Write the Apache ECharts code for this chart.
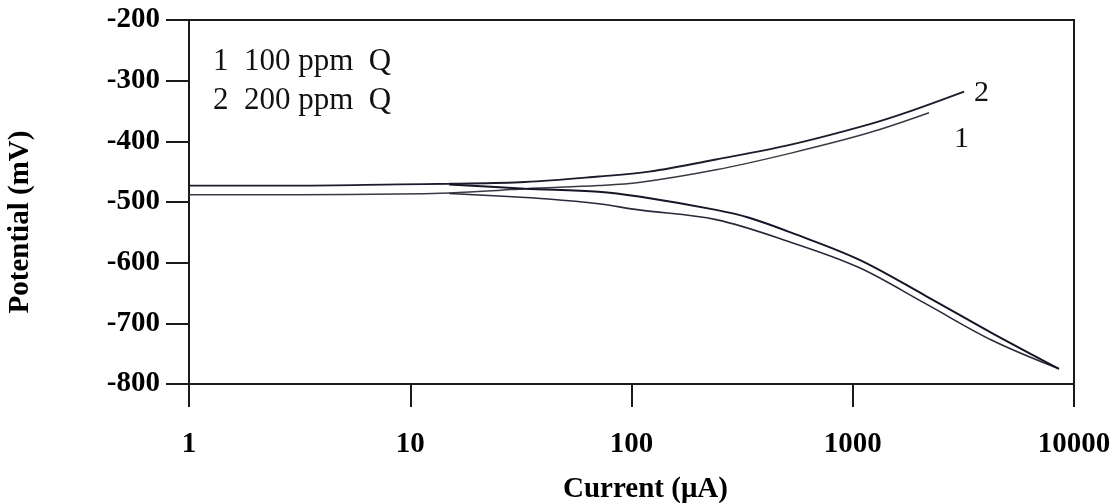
<!DOCTYPE html>
<html>
<head>
<meta charset="utf-8">
<script src="https://cdn.jsdelivr.net/npm/echarts@6/dist/echarts.min.js"></script>
<style>
html,body{margin:0;padding:0;background:#fff;}
#chart{width:1112px;height:503px;}
</style>
</head>
<body>
<div id="chart"></div>
<script>
// ---- Data ----
const xTickValues = [1, 10, 100, 1000, 10000];
const yMin = -800, yMax = -200, yStep = 100;
const legendLines = ['1  100 ppm  Q', '2  200 ppm  Q'];
const curveLabels = ['1', '2'];
const xAxisTitle = 'Current (\u03bcA)';
const yAxisTitle = 'Potential (mV)';

// Curve 1 (100 ppm Q): anodic branch
const c1AnodicI = [1, 3.1, 8.9, 15, 25, 33, 71, 108, 241, 531, 1184, 2212];
const c1AnodicE = [-488, -488, -487, -485, -481, -478, -473, -468, -447, -419, -386, -353];
// Curve 1: cathodic branch
const c1CathodicI = [15, 25, 42, 71, 108, 241, 531, 1067, 2143, 4259, 8551];
const c1CathodicE = [-486, -490, -495, -503, -513, -529, -567, -608, -668, -728, -775];

// Curve 2 (200 ppm Q): anodic branch
const c2AnodicI = [1, 3.1, 8.9, 15, 33, 71, 120, 241, 531, 1184, 1795, 3185];
const c2AnodicE = [-473, -473, -471, -470, -467, -458, -450, -430, -405, -372, -351, -318];
// Curve 2: cathodic branch
const c2CathodicI = [15, 33, 71, 108, 241, 340, 531, 1067, 2143, 4259, 8551];
const c2CathodicE = [-471, -478, -483, -491, -513, -526, -551, -595, -655, -716, -775];

const pairs = (xs, ys) => xs.map((x, i) => [x, ys[i]]);

const serif = '"Liberation Serif", "Times New Roman", serif';
const ink = '#1a1a1a';

const lineSeries = (name, data, color, width, label) => {
  const s = {
    name: name,
    type: 'line',
    data: data,
    smooth: 0.35,
    symbol: 'none',
    lineStyle: { color: color, width: width },
    silent: true
  };
  if (label) {
    s.endLabel = {
      show: true,
      formatter: label.text,
      fontFamily: serif,
      fontSize: 30,
      color: '#111',
      offset: label.offset
    };
  }
  return s;
};

const chart = echarts.init(document.getElementById('chart'), null, { renderer: 'canvas' });
chart.setOption({
  animation: false,
  backgroundColor: '#fff',
  grid: {
    left: 189, right: 38, top: 20, bottom: 119,
    outerBoundsMode: 'none',
    containLabel: false,
    show: true, borderColor: ink, borderWidth: 2, backgroundColor: 'transparent'
  },
  xAxis: {
    type: 'log',
    logBase: 10,
    min: xTickValues[0],
    max: xTickValues[xTickValues.length - 1],
    axisLine: { show: true, lineStyle: { color: ink, width: 2 } },
    axisTick: { show: true, inside: false, length: 23, lineStyle: { color: ink, width: 2 } },
    minorTick: { show: false },
    splitLine: { show: false },
    axisLabel: {
      color: '#000', fontFamily: serif, fontWeight: 'bold', fontSize: 29, margin: 46,
      formatter: v => String(Math.round(v))
    },
    name: xAxisTitle,
    nameLocation: 'middle',
    nameGap: 91,
    nameTextStyle: {
      color: '#000', fontFamily: serif, fontWeight: 'bold', fontSize: 29,
      padding: [0, 0, 0, 28]
    }
  },
  yAxis: {
    type: 'value',
    min: yMin,
    max: yMax,
    interval: yStep,
    axisLine: { show: true, lineStyle: { color: ink, width: 2 } },
    axisTick: { show: true, inside: false, length: 23, lineStyle: { color: ink, width: 2 } },
    splitLine: { show: false },
    axisLabel: { color: '#000', fontFamily: serif, fontWeight: 'bold', fontSize: 29, margin: 29 },
    name: yAxisTitle,
    nameLocation: 'middle',
    nameGap: 154,
    nameTextStyle: {
      color: '#000', fontFamily: serif, fontWeight: 'bold', fontSize: 29,
      padding: [0, 40, 0, 0]
    }
  },
  graphic: legendLines.map((t, i) => ({
    type: 'text',
    left: 213,
    top: 46 + i * 39,
    style: { text: t, font: '31px ' + serif, fill: '#111' }
  })),
  series: [
    lineSeries('1 anodic', pairs(c1AnodicI, c1AnodicE), '#3a3a44', 1.5, { text: curveLabels[0], offset: [17, 26] }),
    lineSeries('1 cathodic', pairs(c1CathodicI, c1CathodicE), '#2a2a3a', 1.6),
    lineSeries('2 anodic', pairs(c2AnodicI, c2AnodicE), '#1c1c2c', 1.9, { text: curveLabels[1], offset: [2, 2] }),
    lineSeries('2 cathodic', pairs(c2CathodicI, c2CathodicE), '#151528', 2.0)
  ]
});
</script>
</body>
</html>
